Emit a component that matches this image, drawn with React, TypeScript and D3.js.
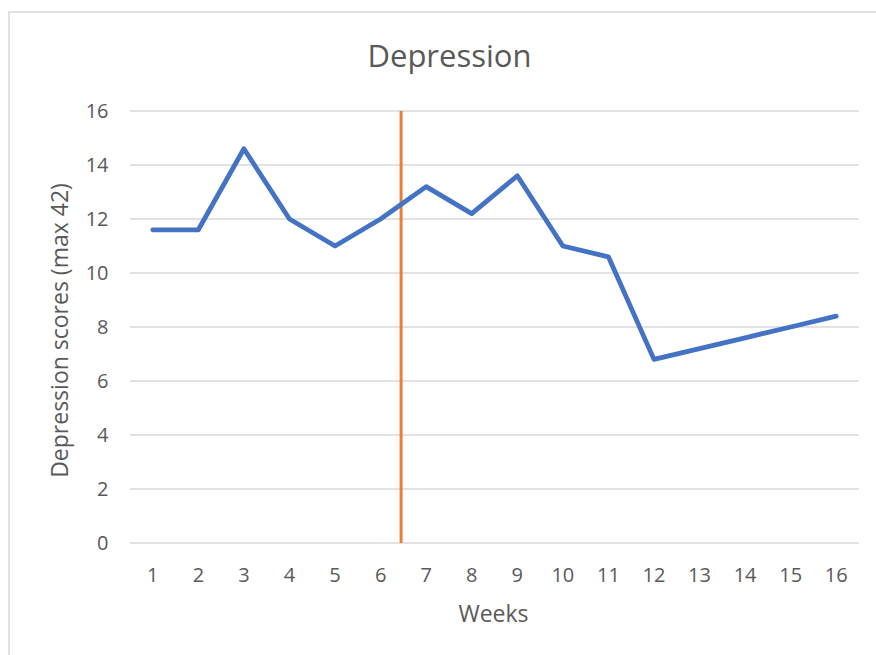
import * as d3 from 'd3';

const weeks = [1, 2, 3, 4, 5, 6, 7, 8, 9, 10, 11, 12, 13, 14, 15, 16];
const scores = [11.6, 11.6, 14.6, 12.0, 11.0, 12.0, 13.2, 12.2, 13.6, 11.0, 10.6, 6.8, 7.2, 7.6, 8.0, 8.4];
const yTicks = [0, 2, 4, 6, 8, 10, 12, 14, 16];
const markerWeek = 6.45;

const WIDTH = 876;
const HEIGHT = 655;
const FONT = '"Open Sans", "Noto Sans", sans-serif';
const TEXT = '#595959';
const GRID = '#d9d9d9';

export default function App() {
    const x = d3.scaleLinear().domain([0.5, 16.5]).range([130, 859]);
    const y = d3.scaleLinear().domain([0, 16]).range([543, 111]);

    const line = d3
        .line<number>()
        .x((_, i) => x(weeks[i]))
        .y((d) => y(d));

    return (
        <svg
            width={WIDTH}
            height={HEIGHT}
            style={{ position: 'absolute', left: 0, top: 0, background: '#fff' }}
            fontFamily={FONT}
        >
            <rect x={9} y={12} width={WIDTH + 20} height={HEIGHT + 20} fill="#fff" stroke={GRID} strokeWidth={1.5} />

            <text x={449.5} y={67} textAnchor="middle" fontSize={31} fill={TEXT}>
                Depression
            </text>

            {yTicks.map((t) => (
                <g key={t}>
                    <line x1={x.range()[0]} x2={x.range()[1]} y1={y(t)} y2={y(t)} stroke={GRID} strokeWidth={1.4} />
                    <text x={108.5} y={y(t) + 7.3} textAnchor="end" fontSize={20} fill={TEXT}>
                        {t}
                    </text>
                </g>
            ))}

            {weeks.map((w) => (
                <text key={w} x={x(w)} y={582} textAnchor="middle" fontSize={20} fill={TEXT}>
                    {w}
                </text>
            ))}

            <line
                x1={x(markerWeek)}
                x2={x(markerWeek)}
                y1={y(16)}
                y2={y(0)}
                stroke="#ED7D31"
                strokeWidth={3}
            />

            <path
                d={line(scores) ?? ''}
                fill="none"
                stroke="#4472C4"
                strokeWidth={4.8}
                strokeLinejoin="round"
                strokeLinecap="round"
            />

            <text
                transform="translate(68,330.5) rotate(-90)"
                textAnchor="middle"
                fontSize={23}
                fill={TEXT}
            >
                Depression scores (max 42)
            </text>

            <text x={493.5} y={621.5} textAnchor="middle" fontSize={23} fill={TEXT}>
                Weeks
            </text>
        </svg>
    );
}
